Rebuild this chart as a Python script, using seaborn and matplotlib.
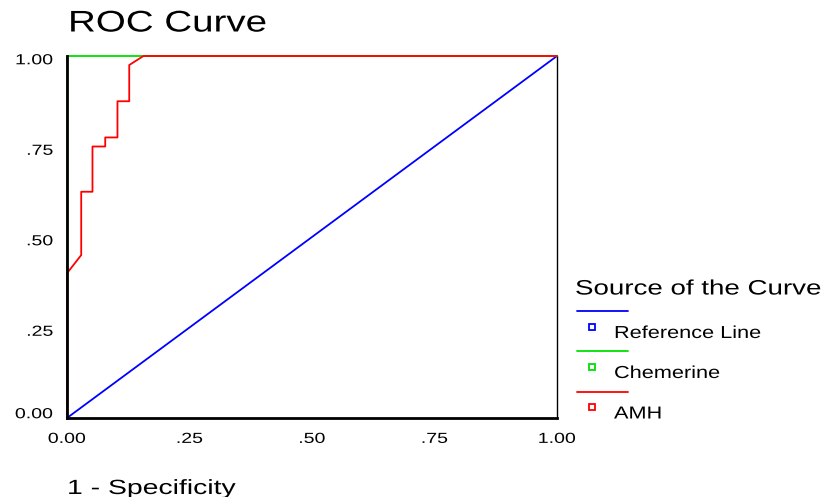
import matplotlib
matplotlib.use("Agg")
import matplotlib.pyplot as plt
from matplotlib.lines import Line2D
from matplotlib.patheffects import AbstractPathEffect
from matplotlib.transforms import Affine2D, ScaledTranslation
import seaborn as sns
import pandas as pd

# ---- data ----
ref_x = [0.0, 1.0]
ref_y = [0.0, 1.0]
chem_x = [0.0, 0.0, 1.0]
chem_y = [0.0, 1.0, 1.0]
amh_x = [0.0, 0.0, 0.029, 0.029, 0.052, 0.052, 0.078, 0.078, 0.103, 0.103, 0.127, 0.127, 0.156, 1.0]
amh_y = [0.0, 0.40, 0.45, 0.625, 0.625, 0.75, 0.75, 0.775, 0.775, 0.875, 0.875, 0.975, 1.0, 1.0]
series_names = ["Reference Line", "Chemerine", "AMH"]
series_colors = ["#0000ff", "#00e000", "#ff0000"]
tick_vals = [0.0, 0.25, 0.5, 0.75, 1.0]
tick_labels = ["0.00", ".25", ".50", ".75", "1.00"]


class HStretch(AbstractPathEffect):
    """Horizontally widen glyphs (the reference uses a wide-set font)."""

    def __init__(self, sx, anchor="left"):
        super().__init__()
        self.sx = sx
        self.anchor = anchor

    def draw_path(self, renderer, gc, tpath, affine, rgbFace=None):
        cx = 0.0
        if len(tpath.vertices):
            ext = tpath.get_extents()
            if self.anchor == "center":
                cx = (ext.x0 + ext.x1) / 2
            elif self.anchor == "right":
                cx = ext.x1
        t = Affine2D().translate(-cx, 0).scale(self.sx, 1).translate(cx, 0) + affine
        renderer.draw_path(gc, tpath, t, rgbFace)


sns.set_style("white")
plt.rcParams["font.family"] = ["Liberation Sans", "DejaVu Sans"]

W, H = 827, 497
fig = plt.figure(figsize=(W / 100, H / 100), dpi=100)
ax = fig.add_axes([67 / W, 1 - 418 / H, 490 / W, 362 / H])

frames = []
for name, xs, ys in zip(series_names, [ref_x, chem_x, amh_x], [ref_y, chem_y, amh_y]):
    frames.append(pd.DataFrame({"x": xs, "y": ys, "series": name}))
df = pd.concat(frames, ignore_index=True)

sns.lineplot(data=df, x="x", y="y", hue="series", hue_order=series_names,
             palette=series_colors, sort=False, estimator=None, units="series",
             linewidth=1.3, ax=ax, legend=False, clip_on=False)

ax.set_xlim(0, 1)
ax.set_ylim(0, 1)
ax.set_xticks(tick_vals)
ax.set_xticklabels(tick_labels)
ax.set_yticks(tick_vals)
ax.set_yticklabels(tick_labels)
ax.set_xlabel("")
ax.set_ylabel("")
ax.tick_params(axis="both", direction="out", length=3, width=3, color="black",
               labelsize=10.5, labelcolor="black")
ax.tick_params(axis="x", pad=7)
ax.tick_params(axis="y", pad=7)
for lab in ax.get_xticklabels():
    lab.set_path_effects([HStretch(1.34, "center")])
ylabs = ax.get_yticklabels()
for i, lab in enumerate(ylabs):
    lab.set_path_effects([HStretch(1.34, "right")])
    dy = 3.8 if i == 0 else -2.0
    lab.set_transform(lab.get_transform() + ScaledTranslation(0, dy / 72, fig.dpi_scale_trans))

for side, sp in ax.spines.items():
    sp.set_color("black")
    sp.set_linewidth(1.0)
    sp.set_zorder(1)
ax.spines["left"].set_linewidth(2.0)
ax.spines["bottom"].set_linewidth(2.0)
ax.spines["left"].set_zorder(5)
ax.spines["bottom"].set_zorder(5)
ax.spines["top"].set_visible(False)

t = fig.text(68 / W, 1 - 31.5 / H, "ROC Curve", fontsize=21.5, ha="left", va="baseline", color="black")
t.set_path_effects([HStretch(1.29)])
t = fig.text(67 / W, 1 - 494 / H, "1 - Specificity", fontsize=14.8, ha="left", va="baseline", color="black")
t.set_path_effects([HStretch(1.38)])

# legend (SPSS style)
t = fig.text(575 / W, 1 - 294.5 / H, "Source of the Curve", fontsize=15, ha="left", va="baseline", color="black")
t.set_path_effects([HStretch(1.33)])
line_ys = [311, 351, 392]
mark_ys = [327, 367, 407]
label_ys = [338, 378, 418.5]
for name, col, ly, my, ty in zip(series_names, series_colors, line_ys, mark_ys, label_ys):
    fig.add_artist(Line2D([577 / W, 628 / W], [1 - ly / H, 1 - ly / H],
                          transform=fig.transFigure, color=col, linewidth=1.3))
    fig.add_artist(Line2D([592 / W], [1 - my / H], transform=fig.transFigure,
                          marker="s", markersize=5, markerfacecolor="white",
                          markeredgecolor=col, markeredgewidth=1.3, linestyle="none"))
    t = fig.text(614 / W, 1 - ty / H, name, fontsize=12.5, ha="left", va="baseline", color="black")
    t.set_path_effects([HStretch(1.25)])

fig.savefig("out.png", dpi=100)
